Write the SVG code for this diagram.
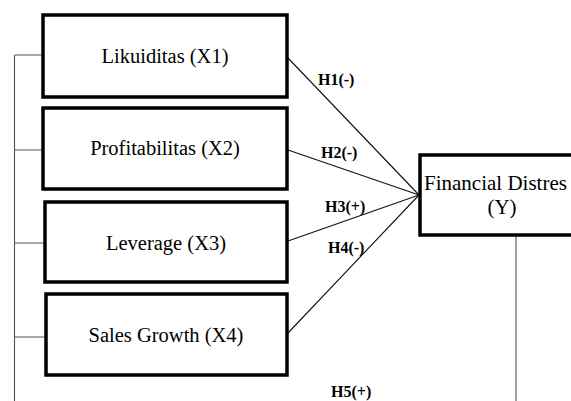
<svg xmlns="http://www.w3.org/2000/svg" width="571" height="401" viewBox="0 0 571 401">
<style>
.box{fill:#fff;stroke:#000;stroke-width:3.5}
.t{font-family:"Liberation Serif","Times New Roman",serif;font-size:20.5px;fill:#000;text-anchor:middle}
.lbl{font-family:"Liberation Serif","Times New Roman",serif;font-size:16px;font-weight:bold;fill:#000}
.c{stroke:#111;stroke-width:1.1;fill:none}
.bus{stroke:#555;stroke-width:1.1;fill:none}
</style>
<rect width="571" height="401" fill="#fff"/>
<g id="connectors">
<path class="bus" d="M14.5 55 V401 M14.5 55 H43 M14.5 150 H43 M14.5 243 H45 M14.5 337 H46"/>
<path class="c" d="M288 58 L419 195 M288 150 L419 195 M288 241 L419 195 M288 333 L419 195"/>
<path class="bus" d="M516 236 V401"/>
</g>
<g id="x1"><rect class="box" x="43" y="15" width="244" height="82"/><text class="t" x="165" y="63">Likuiditas (X1)</text></g>
<g id="x2"><rect class="box" x="43" y="108" width="244" height="81"/><text class="t" x="165" y="155">Profitabilitas (X2)</text></g>
<g id="x3"><rect class="box" x="45" y="202" width="242" height="80"/><text class="t" x="166" y="250">Leverage (X3)</text></g>
<g id="x4"><rect class="box" x="46" y="294" width="241" height="81"/><text class="t" x="166" y="342">Sales Growth (X4)</text></g>
<g id="y"><rect class="box" x="420" y="155" width="200" height="80"/><text class="t" x="424" y="190" style="text-anchor:start;font-size:21px">Financial Distres</text><text class="t" x="502" y="214" style="font-size:21px">(Y)</text></g>
<g id="labels">
<text class="lbl" x="318" y="85">H1(-)</text>
<text class="lbl" x="321" y="158">H2(-)</text>
<text class="lbl" x="325" y="212">H3(+)</text>
<text class="lbl" x="328" y="253">H4(-)</text>
<text class="lbl" x="331" y="397">H5(+)</text>
</g>
</svg>
